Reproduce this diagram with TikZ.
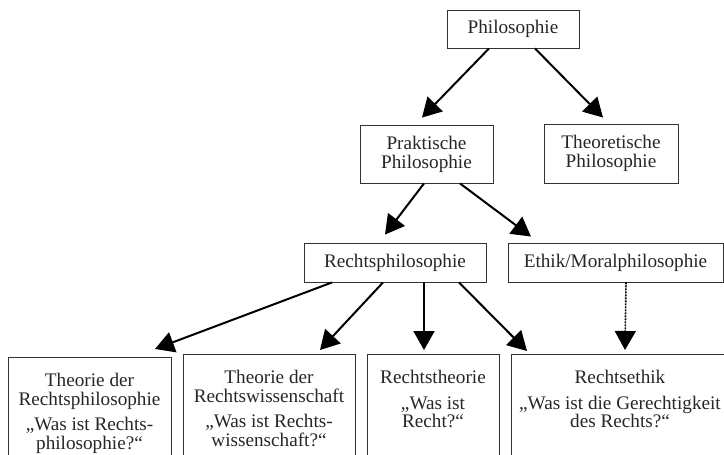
\documentclass[tikz,border=0pt]{standalone}
\usepackage{fontspec}
\setmainfont{Liberation Serif}
\usepackage{tikz}
\usetikzlibrary{arrows.meta}

\begin{document}
\begin{tikzpicture}[x=1pt, y=-1pt, every node/.style={font=\fontsize{19.2}{18.8}\selectfont, text=black!85},
	box/.style={draw=black!80, line width=0.9pt, align=center, inner sep=0pt},
	leaf/.style={box, anchor=north, inner ysep=15.5pt, text depth=110pt},
	arr/.style={line width=2pt, -{Triangle[length=19pt, width=21pt]}}]
			\useasboundingbox (0,0) rectangle (724,455);
			\node[box, minimum width=132pt, minimum height=38pt] (phil) at (513,29) {Philosophie};
			\node[box, minimum width=133pt, minimum height=58pt] (prak) at (426.5,154) {Praktische\\Philosophie};
			\node[box, minimum width=134pt, minimum height=59pt] (theo) at (611,153.5) {Theoretische\\Philosophie};
			\node[box, minimum width=182pt, minimum height=39pt] (rphil) at (395,262.5) {Rechtsphilosophie};
			\node[box, minimum width=215pt, minimum height=39pt] (ethik) at (615.5,262.5) {Ethik/Moralphilosophie};
			\node[leaf, minimum width=163pt] (trphil) at (89.5,357) {Theorie der\\Rechtsphilosophie\\[7pt]„Was ist Rechts-\\philosophie?“};
			\node[leaf, minimum width=172pt] (trwiss) at (269,354) {Theorie der\\Rechtswissenschaft\\[7pt]„Was ist Rechts-\\wissenschaft?“};
			\node[leaf, minimum width=132pt] (rtheo) at (433,354) {Rechtstheorie\\[7pt]„Was ist\\Recht?“};
			\node[leaf, minimum width=218pt] (rethik) at (620,354) {Rechtsethik\\[7pt]„Was ist die Gerechtigkeit\\des Rechts?“};
			\draw[arr] ([xshift=-24pt]phil.south) -- ([xshift=-4.5pt, yshift=7pt]prak.north);
			\draw[arr] ([xshift=22pt]phil.south) -- ([xshift=-8pt, yshift=6pt]theo.north);
			\draw[arr] ([xshift=-2.5pt]prak.south) -- ([xshift=-10pt, yshift=8pt]rphil.north);
			\draw[arr] ([xshift=33.5pt]prak.south) -- ([xshift=-84.5pt, yshift=6pt]ethik.north);
			\draw[arr] ([xshift=-63pt]rphil.south) -- ([xshift=65.5pt, yshift=8pt]trphil.north);
			\draw[arr] ([xshift=-12pt]rphil.south) -- ([xshift=51pt, yshift=4pt]trwiss.north);
			\draw[arr] ([xshift=29pt]rphil.south) -- ([xshift=-9pt, yshift=4pt]rtheo.north);
			\draw[arr] ([xshift=64pt]rphil.south) -- ([xshift=-93pt, yshift=3pt]rethik.north);
			\draw[arr, densely dotted, line width=1.6pt] ([xshift=10.5pt]ethik.south) -- ([xshift=5pt, yshift=4pt]rethik.north);
		\end{tikzpicture}
\end{document}
